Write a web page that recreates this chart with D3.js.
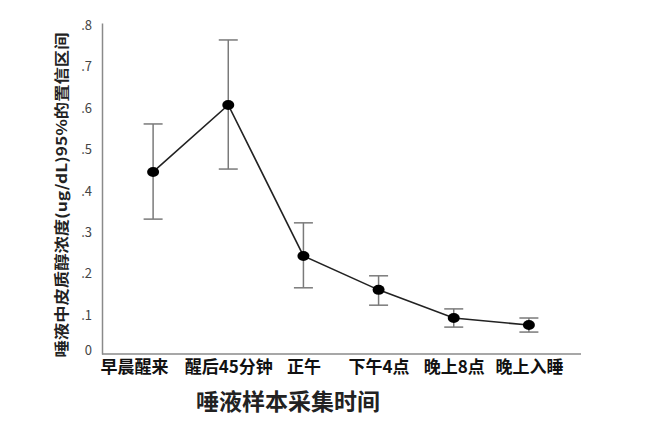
<!DOCTYPE html>
<html>
<head>
<meta charset="utf-8">
<script src="https://cdn.jsdelivr.net/npm/d3@7"></script>
<style>
  body { margin: 0; background: #fff; }
  text { font-family: "Noto Sans CJK SC", "DejaVu Sans", sans-serif; }
</style>
</head>
<body>
<div id="chart"></div>
<script>
// categories and values
var categories = ["早晨醒来", "醒后45分钟", "正午", "下午4点", "晚上8点", "晚上入睡"];
var means = [0.440, 0.602, 0.237, 0.155, 0.087, 0.070];
var upper = [0.556, 0.759, 0.317, 0.189, 0.109, 0.087];
var lower = [0.326, 0.447, 0.160, 0.118, 0.065, 0.053];
var yTicks = [0, 0.1, 0.2, 0.3, 0.4, 0.5, 0.6, 0.7, 0.8];

var svgWidth = 669;
var svgHeight = 439;

var margin = { top: 23, left: 102, right: 89, bottom: 85 };
var width = svgWidth - margin.left - margin.right;
var height = svgHeight - margin.top - margin.bottom;

var svg = d3.select("#chart")
  .append("svg")
  .attr("width", svgWidth)
  .attr("height", svgHeight);

var chartGroup = svg.append("g")
  .attr("transform", `translate(${margin.left}, ${margin.top})`);

var data = categories.map(function(c, i) {
  return { cat: c, mean: means[i], hi: upper[i], lo: lower[i] };
});

// scales
var xScale = d3.scalePoint()
  .domain(categories)
  .range([0, width])
  .padding(0.68);

var yScale = d3.scaleLinear()
  .domain([0, 0.8])
  .range([height, 0]);

// y axis
var leftAxis = d3.axisLeft(yScale)
  .tickValues(yTicks)
  .tickSize(0)
  .tickPadding(10)
  .tickFormat(function(d) { return d === 0 ? "0" : d3.format(".1f")(d).replace(/^0/, ""); });

var yAxis = chartGroup.append("g").call(leftAxis);
yAxis.select(".domain").attr("stroke", "#8a8a8a").attr("stroke-width", 1.5);
yAxis.selectAll("text")
  .attr("fill", "#444")
  .attr("font-size", "13px")
  .attr("font-family", "Arial, 'Liberation Sans', sans-serif")
  .attr("dy", d => d === 0 ? "0em" : "0.5em");

// x axis
var bottomAxis = d3.axisBottom(xScale).tickSize(0).tickPadding(7);
var xAxis = chartGroup.append("g")
  .attr("transform", `translate(0, ${height})`)
  .call(bottomAxis);
xAxis.select(".domain")
  .attr("d", `M0,0H${width + 1}`)
  .attr("stroke", "#8a8a8a")
  .attr("stroke-width", 1.5);
xAxis.selectAll("text")
  .attr("fill", "#111")
  .attr("font-size", "17px")
  .attr("font-weight", "bold");
// first label sits flush with the axis in the original
xAxis.selectAll(".tick").filter(function(d, i) { return i === 0; })
  .select("text")
  .attr("text-anchor", "start")
  .attr("x", -xScale(categories[0]) - 2);

// error bars
var capW = 9.5;
var bars = chartGroup.append("g")
  .selectAll("g")
  .data(data)
  .enter()
  .append("g")
  .attr("stroke", "#7a7a7a")
  .attr("stroke-width", 1.5);

bars.append("line")
  .attr("x1", d => xScale(d.cat))
  .attr("x2", d => xScale(d.cat))
  .attr("y1", d => yScale(d.hi))
  .attr("y2", d => yScale(d.lo));
bars.append("line")
  .attr("x1", d => xScale(d.cat) - capW)
  .attr("x2", d => xScale(d.cat) + capW)
  .attr("y1", d => yScale(d.hi))
  .attr("y2", d => yScale(d.hi));
bars.append("line")
  .attr("x1", d => xScale(d.cat) - capW)
  .attr("x2", d => xScale(d.cat) + capW)
  .attr("y1", d => yScale(d.lo))
  .attr("y2", d => yScale(d.lo));

// mean line
var line = d3.line()
  .x(d => xScale(d.cat))
  .y(d => yScale(d.mean));

chartGroup.append("path")
  .datum(data)
  .attr("d", line)
  .attr("fill", "none")
  .attr("stroke", "#222")
  .attr("stroke-width", 1.6);

// markers
chartGroup.selectAll(".pt")
  .data(data)
  .enter()
  .append("ellipse")
  .attr("class", "pt")
  .attr("cx", d => xScale(d.cat))
  .attr("cy", d => yScale(d.mean))
  .attr("rx", 6)
  .attr("ry", 5)
  .attr("fill", "#000");

// axis titles
svg.append("text")
  .attr("x", 288)
  .attr("y", 410)
  .attr("text-anchor", "middle")
  .attr("font-size", "23px")
  .attr("font-weight", "bold")
  .attr("fill", "#222")
  .text("唾液样本采集时间");

svg.append("text")
  .attr("transform", "translate(67, 195) rotate(-90)")
  .attr("text-anchor", "middle")
  .attr("font-size", "14.5px")
  .attr("font-weight", "bold")
  .attr("fill", "#222")
  .attr("textLength", 325)
  .attr("lengthAdjust", "spacingAndGlyphs")
  .text("唾液中皮质醇浓度(ug/dL)95%的置信区间");
</script>
</body>
</html>
